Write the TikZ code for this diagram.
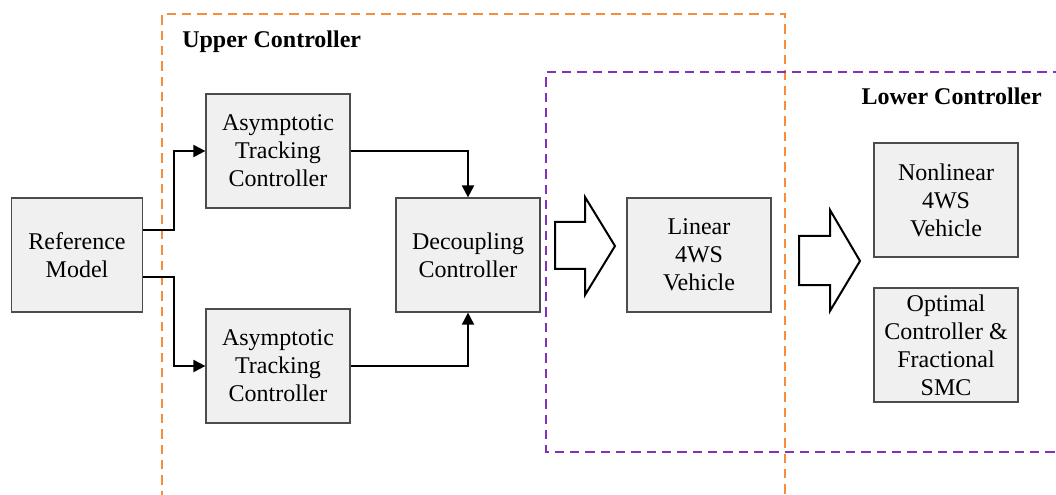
\documentclass[tikz,border=0pt]{standalone}
\usepackage{fontspec}
\setmainfont{Liberation Serif}[Ligatures=TeX]
\newfontfamily\labelfont{Liberation Serif}
\usetikzlibrary{arrows.meta,calc}

\definecolor{boxgray}{RGB}{240,240,240}
\definecolor{upperorange}{RGB}{247,140,60}
\definecolor{lowerpurple}{RGB}{130,50,180}

\begin{document}
\begin{tikzpicture}[x=0.75pt,y=-0.75pt,
    block/.style={draw=black!70,fill=boxgray,line width=0.9pt,align=center,
      minimum width=108pt,minimum height=85.5pt,inner sep=0pt,
      font=\labelfont\fontsize{18}{21}\selectfont},
    flow/.style={line width=1.4pt,-{Triangle[length=9pt,width=9pt]}},
    fat/.style={line width=1.5pt,fill=white,line join=miter},
    region/.style={dashed,line width=1.5pt,dash pattern=on 7pt off 4.5pt},
    title/.style={font=\labelfont\fontsize{18}{21}\selectfont\bfseries,inner sep=0pt}]
    \useasboundingbox (0,0) rectangle (1056,495);
    \clip (0,0) rectangle (1056,495);

    % dashed frames of the two controller levels
    \draw[region,draw=upperorange] (162,500) -- (162,14) -- (785,14) -- (785,500);
    \draw[region,draw=lowerpurple] (1062,72) -- (546,72) -- (546,452) -- (1062,452);
    \node[title,anchor=west] (uppertitle) at (182,42) {Upper Controller};
    \node[title,anchor=east] (lowertitle) at (1042,96) {Lower Controller};

    % blocks
    \node[block,minimum width=98pt] (ref) at (77,255) {Reference\\Model};
    \node[block] (atcup) at (278,151) {Asymptotic\\Tracking\\Controller};
    \node[block] (atcdown) at (278,366) {Asymptotic\\Tracking\\Controller};
    \node[block] (dec) at (468,255) {Decoupling\\Controller};
    \node[block] (lin) at (699,255) {Linear\\4WS\\Vehicle};
    \node[block] (nonlin) at (946,200) {Nonlinear\\4WS\\Vehicle};
    \node[block] (opt) at (946,345) {Optimal\\Controller \&\\Fractional\\SMC};

    % signal lines
    \draw[flow] ($(ref.east)+(0,-25)$) -- ++(31,0) |- (atcup.west);
    \draw[flow] ($(ref.east)+(0,22)$) -- ++(31,0) |- (atcdown.west);
    \draw[flow] (atcup.east) -| (dec.north);
    \draw[flow] (atcdown.east) -| (dec.south);

    % hollow arrows between the levels
    \draw[fat] (555,222) -- (585,222) -- (585,197) -- (615,246) -- (585,295)
      -- (585,269) -- (555,269) -- cycle;
    \draw[fat] (799,236) -- (830,236) -- (830,210) -- (860,261) -- (830,311)
      -- (830,285) -- (799,285) -- cycle;
\end{tikzpicture}
\end{document}
